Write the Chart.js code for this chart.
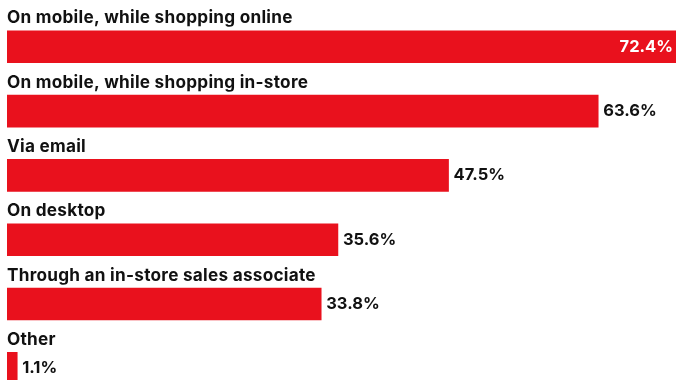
<!DOCTYPE html>
<html>
<head>
<meta charset="utf-8">
<script src="https://cdn.jsdelivr.net/npm/chart.js@4"></script>
<style>
    html, body { margin: 0; padding: 0; background: #fff; overflow: hidden; }
    #wrap { width: 680px; height: 401px; position: relative; }
</style>
</head>
<body>
<div id="wrap"><canvas id="channelChart"></canvas></div>
<script>
// =============================================
// DATA
// =============================================
const categories = [
    "On mobile, while shopping online",
    "On mobile, while shopping in-store",
    "Via email",
    "On desktop",
    "Through an in-store sales associate",
    "Other"
];
const shares = [72.4, 63.6, 47.5, 35.6, 33.8, 1.1];

const BAR_RED = "#E9111D";
const TEXT_DARK = "#111111";

// =============================================
// LABEL PLUGIN (category above bar, value at bar end)
// =============================================
const barLabels = {
    id: "barLabels",
    afterDatasetsDraw(chart) {
        const ctx = chart.ctx;
        const meta = chart.getDatasetMeta(0);
        const left = chart.chartArea.left;
        const maxVal = Math.max(...shares);

        ctx.save();
        meta.data.forEach((bar, i) => {
            const half = bar.height / 2;

            // category name
            ctx.font = "700 17.2px Inter";
            ctx.letterSpacing = "0.25px";
            ctx.fillStyle = TEXT_DARK;
            ctx.textAlign = "left";
            ctx.textBaseline = "alphabetic";
            ctx.fillText(categories[i], left, bar.y - half - 7.5);

            // value
            const txt = shares[i].toFixed(1) + "%";
            ctx.font = "700 16.5px Inter";
            ctx.letterSpacing = "0px";
            ctx.textBaseline = "middle";
            if (shares[i] === maxVal) {
                ctx.fillStyle = "#ffffff";
                ctx.textAlign = "right";
                ctx.fillText(txt, bar.x - 7, bar.y);
            } else {
                ctx.fillStyle = TEXT_DARK;
                ctx.textAlign = "left";
                ctx.fillText(txt, bar.x + 5, bar.y);
            }
        });
        ctx.restore();
    }
};

// =============================================
// CHART
// =============================================
new Chart(document.getElementById("channelChart"), {
    type: "bar",
    data: {
        labels: categories,
        datasets: [{
            data: shares,
            backgroundColor: BAR_RED,
            barThickness: 32,
            borderWidth: 0
        }]
    },
    options: {
        indexAxis: "y",
        responsive: true,
        maintainAspectRatio: false,
        animation: false,
        layout: { padding: { left: 7, right: 0, top: 14.6, bottom: 0.5 } },
        plugins: {
            legend: { display: false },
            tooltip: { enabled: false }
        },
        scales: {
            x: { display: false, min: 0, max: 72.4 },
            y: { display: false, offset: true }
        }
    },
    plugins: [barLabels]
});
</script>
</body>
</html>
